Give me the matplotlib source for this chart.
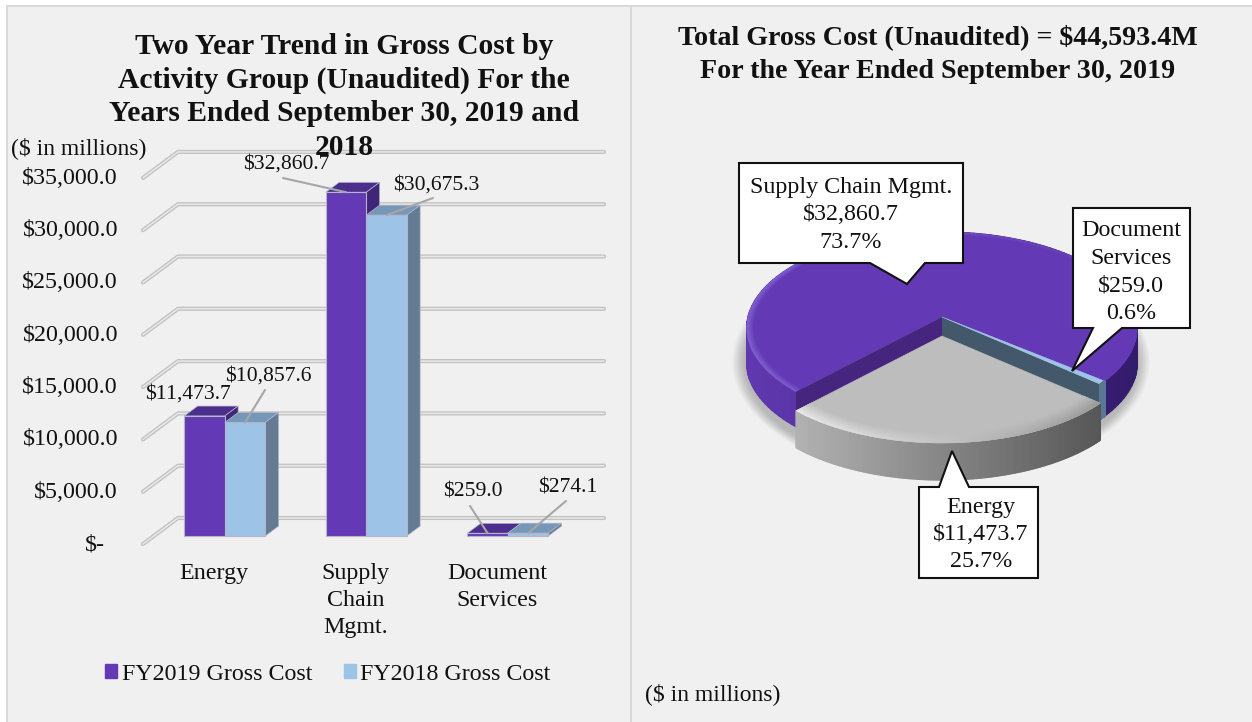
import numpy as np
import matplotlib
matplotlib.use("Agg")
import matplotlib.pyplot as plt
from matplotlib.collections import PolyCollection
from matplotlib.patches import Ellipse, Patch, Polygon, Rectangle

plt.rcParams["font.family"] = ["Liberation Serif", "DejaVu Serif"]

# ---- Data ($ in millions) ----
categories = ["Energy", "Supply\nChain\nMgmt.", "Document\nServices"]
fy2019 = [11473.7, 32860.7, 259.0]
fy2018 = [10857.6, 30675.3, 274.1]
y_ticks = [0, 5000, 10000, 15000, 20000, 25000, 30000, 35000]
y_tick_labels = ["$-", "$5,000.0", "$10,000.0", "$15,000.0", "$20,000.0",
                 "$25,000.0", "$30,000.0", "$35,000.0"]
series_names = ["FY2019 Gross Cost", "FY2018 Gross Cost"]

pie_names = ["Energy", "Supply Chain Mgmt.", "Document\nServices"]
pie_values = [11473.7, 32860.7, 259.0]
pie_percents = ["25.7%", "73.7%", "0.6%"]
pie_amounts = ["$11,473.7", "$32,860.7", "$259.0"]

W, H = 1252, 722
PANEL_BG = "#f0f0f0"
RULE = "#d9d9d9"
LEADER = "#a6a6a6"
PURPLE = ("#6339b5", "#4c2e8d", "#3f2679")
BLUE = ("#9dc3e6", "#7597b8", "#657b94")
FS = 17.3
FS_VALUE = 15.6


def mix(c1, c2, f):
    c1, c2 = np.array(matplotlib.colors.to_rgb(c1)), np.array(matplotlib.colors.to_rgb(c2))
    return tuple(c1 + (c2 - c1) * np.clip(f, 0, 1))


fig = plt.figure(figsize=(W / 100, H / 100), dpi=100, facecolor="white")

# panel background and the thin rules between panels
for rect, col in (((6, 0, W - 6, H - 5), PANEL_BG),
                  ((6, 0, 2, H - 5), RULE),
                  ((6, H - 6.5, W - 6, 1.8), RULE),
                  ((630, 0, 2, H - 5), RULE)):
    fig.add_artist(Rectangle((rect[0] / W, rect[1] / H), rect[2] / W, rect[3] / H, transform=fig.transFigure,
                             facecolor=col, edgecolor="none", zorder=-1))

# ---- Left panel: oblique 3D columns ----
PX_PER_CAT = 141.5
PX_PER_VAL = 0.01046
X_ZERO_PX, Y_ZERO_PX = 214.0, 544.0
DEPTH_X = 35 / PX_PER_CAT          # floor depth in data units
DEPTH_Y = 26 / PX_PER_VAL

ax = fig.add_axes([0, 0, 630 / W, 1])
ax.set_xlim((0 - X_ZERO_PX) / PX_PER_CAT, (630 - X_ZERO_PX) / PX_PER_CAT)
ax.set_ylim((Y_ZERO_PX - H) / PX_PER_VAL, Y_ZERO_PX / PX_PER_VAL)
ax.set_axis_off()


def oblique(x, v, d):
    return x + DEPTH_X * d, v + DEPTH_Y * d


# gridlines running back along the floor and across the rear wall
x_right = (604 - X_ZERO_PX) / PX_PER_CAT - DEPTH_X
for v in y_ticks:
    xs, ys = zip(oblique(-(214 - 143) / PX_PER_CAT, v, 0),
                 oblique(-(214 - 143) / PX_PER_CAT, v, 1),
                 oblique(x_right, v, 1))
    ax.plot(xs, ys, color="#c2c2c2", lw=3.0, solid_capstyle="round", solid_joinstyle="round", zorder=1)
    ax.plot(xs, ys, color="#e8e8e8", lw=1.1, solid_capstyle="round", zorder=1.1)

bar_w = 40.5 / PX_PER_CAT
d_front, d_back = 0.31, 0.69

for i in range(len(categories)):
    for s, (vals, cols) in enumerate(((fy2019, PURPLE), (fy2018, BLUE))):
        v = vals[i]
        x0 = i + (s - 1) * bar_w
        x1 = x0 + bar_w
        fx0, base = oblique(x0, 0, d_front)
        z = 2 + s * 0.1 + i
        ax.bar(fx0, v, width=bar_w, bottom=base, align="edge", color=cols[0],
               edgecolor="#b5b5c9", lw=0.8, zorder=z + 0.05)
        top = [oblique(x0, v, d_front), oblique(x1, v, d_front),
               oblique(x1, v, d_back), oblique(x0, v, d_back)]
        side = [oblique(x1, 0, d_front), oblique(x1, 0, d_back),
                oblique(x1, v, d_back), oblique(x1, v, d_front)]
        ax.add_patch(Polygon(top, closed=True, facecolor=cols[1], edgecolor="#b5b5c9", lw=0.5, zorder=z))
        ax.add_patch(Polygon(side, closed=True, facecolor=cols[2], edgecolor="#b5b5c9", lw=0.5, zorder=z))

# axis labels
for v, lab in zip(y_ticks, y_tick_labels):
    tx = 105 if v == 0 else 118
    ax.annotate(lab, xy=(tx, H - (Y_ZERO_PX - v * PX_PER_VAL) - 0.5), xycoords="figure pixels",
                ha="right", va="center", fontsize=FS, color="#111111", zorder=6)

for i, lab in enumerate(categories):
    ax.annotate(lab, xy=(i, 0), xycoords=("data", "figure pixels"), xytext=(0, H - 563),
                textcoords=("offset pixels", "figure pixels"), ha="center", va="top",
                fontsize=FS, linespacing=1.37, color="#111111")

# value labels: (series, category, text centre, start of the leader line)
value_labels = [
    (0, 0, (188, 394), None),
    (1, 0, (268, 376), (265, 390)),
    (0, 1, (286, 164), (283, 178)),
    (1, 1, (436, 185), (433, 198)),
    (0, 2, (473, 492), (470, 506)),
    (1, 2, (568, 488), (566, 501)),
]
for s, i, (tx, ty), start in value_labels:
    v = (fy2019, fy2018)[s][i]
    anchor = oblique(i + (s - 0.5) * bar_w, v, d_front)
    ax.annotate(f"${v:,.1f}", xy=(tx, H - ty), xycoords="figure pixels", ha="center", va="center",
                fontsize=FS_VALUE, color="#111111", zorder=12)
    if start is not None:
        ax.annotate("", xy=anchor, xycoords="data", xytext=(start[0], H - start[1]),
                    textcoords="figure pixels", zorder=11,
                    arrowprops=dict(arrowstyle="-", color=LEADER, lw=1.5, shrinkA=0, shrinkB=0))

fig.text(344 / W, 1 - 97 / H,
         "Two Year Trend in Gross Cost by\nActivity Group (Unaudited) For the\n"
         "Years Ended September 30, 2019 and\n2018",
         ha="center", va="center", fontsize=21.3, fontweight="bold", linespacing=1.3,
         color="#111111", zorder=10)
fig.text(11 / W, 1 - 148 / H, "($ in millions)", ha="left", va="center", fontsize=17, color="#111111", zorder=10)

ax.legend(handles=[Patch(color=PURPLE[0], label=series_names[0]), Patch(color=BLUE[0], label=series_names[1])],
          loc="center", bbox_to_anchor=(328 / 630, 1 - 674 / H), ncols=2, frameon=False,
          fontsize=FS, handlelength=0.5, handleheight=0.5, handletextpad=0.2,
          columnspacing=1.29, labelcolor="#111111")

# ---- Right panel: exploded 3D pie with perspective ----
ax2 = fig.add_axes([632 / W, 0, (W - 632) / W, 1])
ax2.set_xlim(632, W)
ax2.set_ylim(H, 0)
ax2.set_axis_off()

CX, CY = 942.0, 317.0
RX, RY, PERSP = 194.0, 94.7, 0.1146
RIM = 35.0
ENERGY_DROP, ENERGY_RIM = 19.0, 37.0
START = 319.0

sweeps = [360.0 * val / sum(pie_values) for val in pie_values]
energy_a = (START - sweeps[0], START)
supply_a = (START - sweeps[0] - sweeps[1], START - sweeps[0])
doc_a = (START - sum(sweeps), START - sweeps[0] - sweeps[1])


def pie_xy(t, r=1.0, dy=0.0):
    t = np.radians(t)
    u, v = r * np.cos(t), r * np.sin(t)
    den = 1 + PERSP * v
    return CX + RX * u / den, CY + dy - RY * v / den


def wedge_path(a0, a1, dy=0.0):
    ts = np.linspace(a0, a1, 120)
    x, y = pie_xy(ts, 1.0, dy)
    return [(CX, CY + dy)] + list(zip(x, y))


def rim_strip(a0, a1, dy, rim, left_col, right_col, zorder):
    ts = np.linspace(a0, a1, 140)
    polys, cols = [], []
    for t0, t1 in zip(ts[:-1], ts[1:]):
        x0, y0 = pie_xy(t0, 1.0, dy)
        x1, y1 = pie_xy(t1, 1.0, dy)
        polys.append([(x0, y0), (x1, y1), (x1, y1 + rim), (x0, y0 + rim)])
        cols.append(mix(left_col, right_col, (x0 - (CX - RX)) / (2 * RX)))
    ax2.add_collection(PolyCollection(polys, facecolors=cols, edgecolors=cols, linewidths=1.0, zorder=zorder))


def bevel(a0, a1, dy, inner, highlight, far, base, zorder):
    # rounded edge on the top face: rings fading from the rim toward the flat face
    ts = np.linspace(a0, a1, 140)
    rs = np.linspace(inner, 1.0, 9)
    polys, cols = [], []
    for r0, r1 in zip(rs[:-1], rs[1:]):
        frac = (r0 - inner) / (1 - inner)
        for t0, t1 in zip(ts[:-1], ts[1:]):
            x00, y00 = pie_xy(t0, r0, dy)
            x01, y01 = pie_xy(t1, r0, dy)
            x11, y11 = pie_xy(t1, r1, dy)
            x10, y10 = pie_xy(t0, r1, dy)
            polys.append([(x00, y00), (x01, y01), (x11, y11), (x10, y10)])
            edge = mix(highlight, far, (x00 - (CX - RX)) / (2 * RX))
            cols.append(mix(base, edge, frac))
    ax2.add_collection(PolyCollection(polys, facecolors=cols, edgecolors=cols, linewidths=0.3, zorder=zorder))


# soft shadow under the pie
for k in np.linspace(1.06, 1.0, 12):
    ax2.add_patch(Ellipse((941, 362), 2 * 197 * k, 2 * 110 * k, facecolor="black", alpha=0.018,
                          edgecolor="none", zorder=1))

# supply chain slice
rim_strip(supply_a[0], supply_a[1], 0, RIM, "#6038b0", "#331b6c", 2)
ax2.add_patch(Polygon(wedge_path(supply_a[0], supply_a[1]), closed=True, facecolor=PURPLE[0],
                      edgecolor=PURPLE[0], lw=0.4, zorder=3))
bevel(supply_a[0], supply_a[1], 0, 0.96, "#8467d4", PURPLE[0], PURPLE[0], 3.1)

# cut faces left open by the exploded slice
lx, ly = pie_xy(supply_a[1])
ax2.add_patch(Polygon([(CX, CY), (lx, ly), (lx, ly + RIM), (CX, CY + RIM)], closed=True,
                      facecolor="#46257f", edgecolor="none", zorder=3.5))
rx, ry = pie_xy(doc_a[0])
ax2.add_patch(Polygon([(CX, CY), (rx, ry), (rx, ry + RIM), (CX, CY + RIM)], closed=True,
                      facecolor="#43596b", edgecolor="none", zorder=3.5))

# document services sliver
ax2.add_patch(Polygon(wedge_path(doc_a[0], doc_a[1]), closed=True, facecolor=BLUE[0],
                      edgecolor=BLUE[0], lw=0.4, zorder=3.6))
rim_strip(doc_a[0], doc_a[1], 0, RIM, "#5a7894", "#5a7894", 3.6)

# energy slice, pulled forward
rim_strip(energy_a[0], energy_a[1], ENERGY_DROP, ENERGY_RIM, "#c0c0c0", "#4c4c4c", 4)
ax2.add_patch(Polygon(wedge_path(energy_a[0], energy_a[1], ENERGY_DROP), closed=True, facecolor="#bdbdbd",
                      edgecolor="#bdbdbd", lw=0.4, zorder=5))
bevel(energy_a[0], energy_a[1], ENERGY_DROP, 0.9, "#ffffff", "#8a8a8a", "#bdbdbd", 5.1)


def callout(box, pointer, label, text_xy):
    left, top, right, bottom = box
    base0, tip, base1, side = pointer
    if side == "bottom":
        pts = [(left, top), (right, top), (right, bottom), (base1, bottom), tip, (base0, bottom), (left, bottom)]
    else:
        pts = [(left, top), (base0, top), tip, (base1, top), (right, top), (right, bottom), (left, bottom)]
    ax2.add_patch(Polygon(pts, closed=True, facecolor="white", edgecolor="#111111", lw=1.5,
                          joinstyle="miter", zorder=7))
    ax2.text(text_xy[0], text_xy[1], label, ha="center", va="center", fontsize=FS,
             linespacing=1.4, color="#111111", zorder=8)


callout((739, 163, 963, 263), (870, (907, 284), 925, "bottom"),
        f"{pie_names[1]}\n{pie_amounts[1]}\n{pie_percents[1]}", (851, 215))
callout((1073, 208, 1190, 328), (1093, (1072, 371), 1122, "bottom"),
        f"{pie_names[2]}\n{pie_amounts[2]}\n{pie_percents[2]}", (1131, 272))
callout((919, 487, 1038, 578), (939, (952, 451), 969, "top"),
        f"{pie_names[0]}\n{pie_amounts[0]}\n{pie_percents[0]}", (981, 534.5))

fig.text(938 / W, 1 - 54 / H, "Total Gross Cost (Unaudited) = $44,593.4M\nFor the Year Ended September 30, 2019",
         ha="center", va="center", fontsize=20.2, fontweight="bold", linespacing=1.45, color="#111111", zorder=10)
fig.text(645 / W, 1 - 694 / H, "($ in millions)", ha="left", va="center", fontsize=17, color="#111111", zorder=10)

fig.savefig("out.png", dpi=100, facecolor=fig.get_facecolor())
plt.close(fig)
